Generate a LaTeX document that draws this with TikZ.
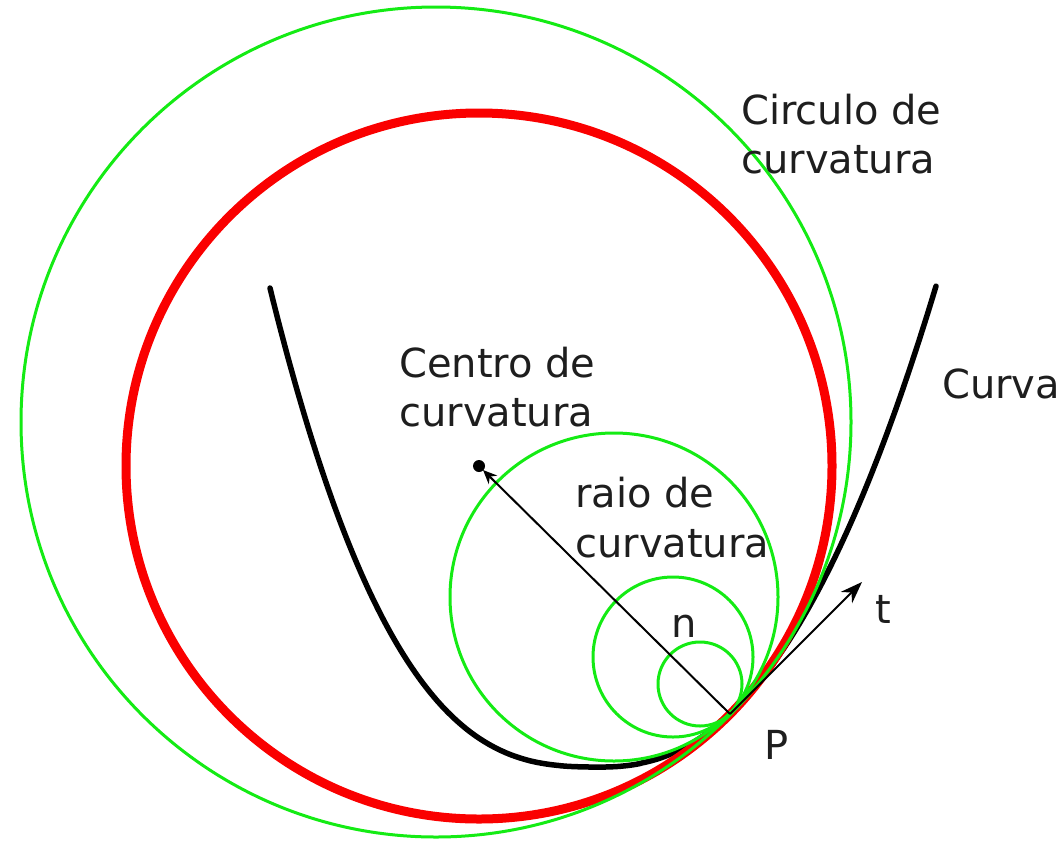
\documentclass[tikz,border=0pt]{standalone}
\usepackage{fontspec}
\setmainfont{DejaVu Sans}
\usetikzlibrary{arrows.meta}
\definecolor{cgreen}{RGB}{20,235,20}
\definecolor{cred}{RGB}{250,0,0}
\definecolor{ctext}{RGB}{30,30,30}
\begin{document}
\begin{tikzpicture}[x=1pt,y=-1pt,
  lbl/.style={anchor=base west, inner sep=0pt, text=ctext, font=\fontsize{40}{48}\selectfont},
  gcirc/.style={draw=cgreen, line width=3pt},
  rcirc/.style={draw=cred, line width=9pt},
  curveline/.style={draw=black, line width=5.5pt, line cap=round, line join=round},
  vecline/.style={draw=black, line width=2pt}]
\useasboundingbox (0,0) rectangle (1064,841);
\coordinate (P) at (730,714);
\coordinate (C) at (479,466);
% curve
\draw[curveline]
  plot[domain=330:0.01, samples=120] ({600-\x},{767-479*(\x/330)^2.8})
  -- plot[domain=0.01:336, samples=120] ({600+\x},{767-481*(\x/336)^2.32});
% red osculating circle
\draw[rcirc] (C) circle[radius=353];
% green circles
\node[gcirc, circle, minimum size=830pt, inner sep=0pt] (g1) at (436,422) {};
\node[gcirc, circle, minimum size=328pt, inner sep=0pt] (g2) at (614,597) {};
\node[gcirc, circle, minimum size=160pt, inner sep=0pt] (g3) at (673,657) {};
\node[gcirc, circle, minimum size=84pt, inner sep=0pt] (g4) at (700,684) {};
% centre dot and vectors
\fill[black] (C) circle[radius=6];
\coordinate (Ctip) at (483,470);
\draw[vecline, -{Stealth[length=14pt, width=12pt]}] (P) -- (Ctip);
\coordinate (T) at (862,582);
\draw[vecline, -{Stealth[length=22pt, width=16pt]}] (P) -- (T);
% labels
\node[lbl] (l1a) at (741,124) {Circulo de};
\node[lbl] (l1b) at (741,173) {curvatura};
\node[lbl] (l2) at (942,398) {Curva};
\node[lbl] (l3a) at (399,377) {Centro de};
\node[lbl] (l3b) at (399,426) {curvatura};
\node[lbl] (l4a) at (575,507) {raio de};
\node[lbl] (l4b) at (575,557) {curvatura};
\node[lbl] (ln) at (671,637) {n};
\node[lbl] (lt) at (875,623) {t};
\node[lbl] (lp) at (764,759) {P};
\end{tikzpicture}
\end{document}
